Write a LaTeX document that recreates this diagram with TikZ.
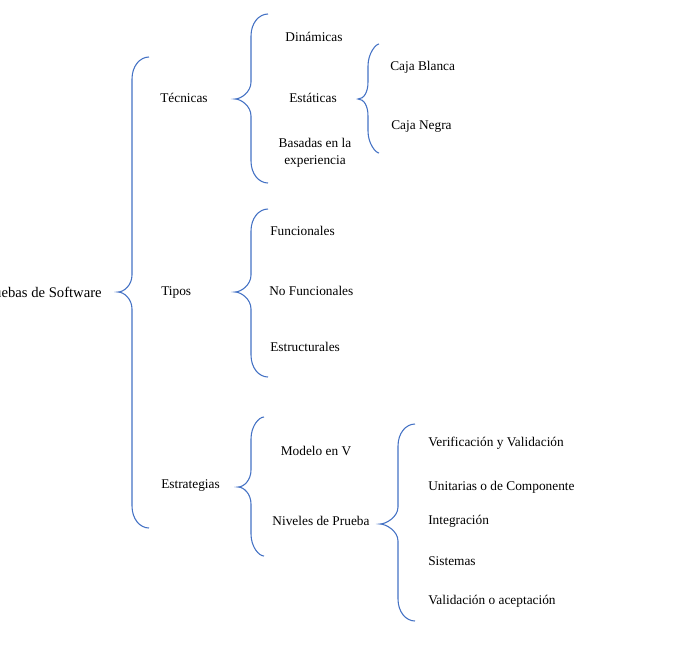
\documentclass[tikz,border=0pt]{standalone}
\usepackage{fontspec}
\setmainfont{Liberation Serif}
\definecolor{braceblue}{HTML}{4472C4}
\tikzset{
  bracestyle/.style={draw=braceblue, line width=0.8pt},
  lbl/.style={inner sep=0pt, font=\fontsize{10}{12.5}\selectfont, anchor=west},
  clbl/.style={inner sep=0pt, font=\fontsize{10}{12.5}\selectfont, align=center},
}
% xe xs xt ytop ytip ybot
\newcommand\cbrace[6]{%
  \draw[bracestyle] (#1,#4) .. controls ({#2+8},#4) and (#2,{#4+9}) .. (#2,{#4+22})
    -- (#2,{#5-17}) .. controls (#2,{#5-7}) and ({#3+6},#5) .. (#3,#5)
    .. controls ({#3+6},#5) and (#2,{#5+7}) .. (#2,{#5+17})
    -- (#2,{#6-22}) .. controls (#2,{#6-9}) and ({#2+8},#6) .. (#1,#6);}
\begin{document}
\begin{tikzpicture}[x=0.75pt,y=-0.75pt]
\useasboundingbox (0,0) rectangle (690,644);
\begin{scope}
\clip (0,0) rectangle (690,644);
\node[lbl, anchor=east, font=\fontsize{11}{13}\selectfont] (root) at (102,292) {Pruebas de Software};
\end{scope}
% main brace
\cbrace{149}{132}{118}{57}{292}{528}
\node[lbl] (tec) at (160,98) {Técnicas};
\node[lbl] (tip) at (161,292) {Tipos};
\node[lbl] (est) at (161,486) {Estrategias};
% Tecnicas brace
\cbrace{268}{251}{235}{14}{99}{183}
\node[clbl] (din) at (314,37) {Dinámicas};
\node[clbl] (sta) at (313,98) {Estáticas};
\node[clbl] (bas) at (315,153) {Basadas en la\\experiencia};
% Estaticas brace
\cbrace{379}{368}{358}{44}{99}{153}
\node[lbl] (cb) at (390,67) {Caja Blanca};
\node[lbl] (cn) at (391,127) {Caja Negra};
% Tipos brace
\cbrace{268}{251}{235}{209}{292}{377}
\node[lbl] (fun) at (270,231) {Funcionales};
\node[lbl] (nof) at (269,291) {No Funcionales};
\node[lbl] (estr) at (270,347) {Estructurales};
% Estrategias brace
\cbrace{264}{251}{238}{417}{487}{556}
\node[clbl] (mod) at (316,451) {Modelo en V};
\node[clbl] (niv) at (321,521) {Niveles de Prueba};
% Niveles brace
\cbrace{415}{398}{380}{424}{524}{621}
\node[lbl] (vv) at (428,443) {Verificación y Validación};
\node[lbl] (uni) at (428,487) {Unitarias o de Componente};
\node[lbl] (int) at (428,521) {Integración};
\node[lbl] (sis) at (428,561) {Sistemas};
\node[lbl] (val) at (428,601) {Validación o aceptación};
\end{tikzpicture}
\end{document}
